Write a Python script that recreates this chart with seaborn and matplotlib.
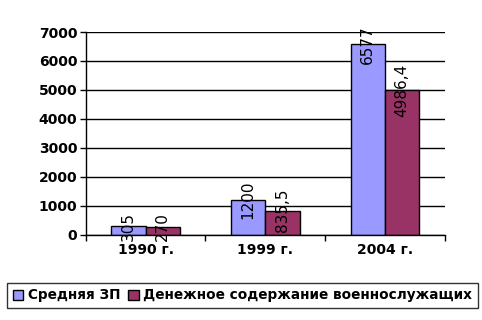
import matplotlib
matplotlib.use("Agg")
import matplotlib.pyplot as plt
import seaborn as sns
import pandas as pd
from matplotlib.ticker import FixedLocator

categories = ["1990 г.", "1999 г.", "2004 г."]
series_names = ["Средняя ЗП", "Денежное содержание военнослужащих"]
avg_salary = [305, 1200, 6577]
military_pay = [270, 835.5, 4986.4]
avg_labels = ["305", "1200", "6577"]
military_labels = ["270", "835,5", "4986,4"]
colors = ["#9999FF", "#993366"]

df = pd.DataFrame({
    "year": categories * 2,
    "series": [series_names[0]] * 3 + [series_names[1]] * 3,
    "value": avg_salary + military_pay,
})

sns.set_theme(style="white")
plt.rcParams["font.family"] = ["DejaVu Sans"]
plt.rcParams["text.color"] = "black"
plt.rcParams["xtick.color"] = "black"
plt.rcParams["ytick.color"] = "black"

fig = plt.figure(figsize=(4.82, 3.2), dpi=100)
ax = fig.add_axes([0.178, 0.266, 0.745, 0.634])

sns.barplot(data=df, x="year", y="value", hue="series", palette=colors, saturation=1,
            width=0.575, edgecolor="black", linewidth=1, ax=ax, legend=True)

ax.set_ylim(0, 7000)
ax.set_xlim(-0.5, 2.5)
ax.set_yticks(range(0, 7001, 1000))
ax.yaxis.grid(True, color="black", linewidth=1)
ax.set_axisbelow(True)
for s in ["top", "right"]:
    ax.spines[s].set_visible(False)
for s in ["left", "bottom"]:
    ax.spines[s].set_color("black")
    ax.spines[s].set_linewidth(1)
ax.set_xlabel("")
ax.set_ylabel("")
ax.tick_params(axis="y", which="major", length=4, width=1, color="black", left=True,
               labelsize=10, pad=2, labelcolor="black")
ax.tick_params(axis="x", which="major", length=0, labelsize=10, pad=6, labelcolor="black")
ax.xaxis.set_minor_locator(FixedLocator([-0.5, 0.5, 1.5, 2.5]))
ax.tick_params(axis="x", which="minor", length=4, width=1, color="black", bottom=True)
for lbl in ax.get_xticklabels() + ax.get_yticklabels():
    lbl.set_fontweight("bold")

all_labels = [avg_labels, military_labels]
for cont, labs in zip(ax.containers, all_labels):
    for patch, lab in zip(cont.patches, labs):
        cx = patch.get_x() + patch.get_width() / 2
        ax.text(cx, patch.get_height(), lab, rotation=90, ha="center", va="center",
                fontsize=11, color="black")

handles, labels = ax.get_legend_handles_labels()
ax.get_legend().remove()
leg = fig.legend(handles, labels, loc="center", bbox_to_anchor=(0.503, 0.077), ncol=2,
                 frameon=True, fancybox=False, edgecolor="black", handlelength=0.75,
                 handleheight=0.75, handletextpad=0.35, columnspacing=0.6,
                 borderpad=0.4, prop={"weight": "bold", "size": 9.8})
leg.get_frame().set_linewidth(1)
for t in leg.get_texts():
    t.set_color("black")

fig.savefig("out.png", dpi=100, facecolor="white")
